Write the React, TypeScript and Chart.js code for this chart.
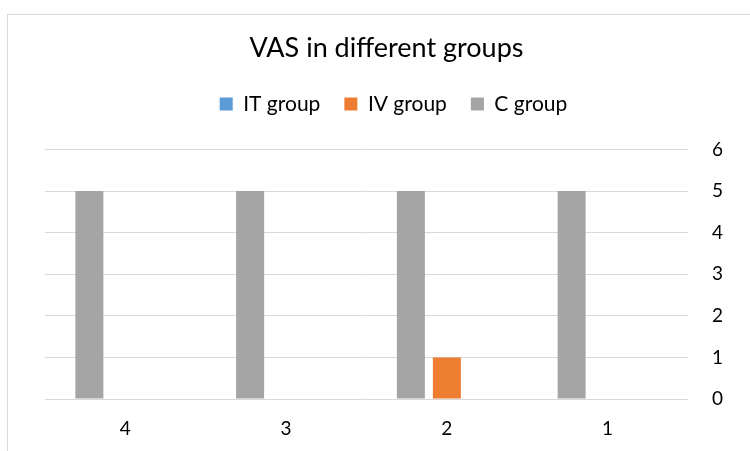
import React, { useEffect, useRef } from "react";
import { Chart, registerables, layouts } from "chart.js";

Chart.register(...registerables);

const categories = ["4", "3", "2", "1"];
const itGroup = [0, 0, 0, 0];
const ivGroup = [0, 0, 1, 0];
const cGroup = [5, 5, 5, 5];
const yMin = 0;
const yMax = 6;
const yStep = 1;

const FONT = "Lato";

const spacerPlugin = {
  id: "legendSpacer",
  beforeInit(chart: any) {
    const box: any = {
      position: "top",
      weight: 500,
      fullSize: true,
      options: {},
      top: 0,
      left: 0,
      right: 0,
      bottom: 0,
      width: 0,
      height: 0,
      isHorizontal() {
        return true;
      },
      update(maxWidth: number) {
        this.width = maxWidth;
        this.height = 25;
      },
      draw() {},
    };
    layouts.addBox(chart, box);
  },
  afterLayout(chart: any) {
    const lg = chart.legend;
    if (lg) {
      lg.left += 7;
      lg.right += 7;
    }
  },
};

export default function App() {
  const ref = useRef<HTMLCanvasElement | null>(null);
  useEffect(() => {
    if (!ref.current) return;
    const chart = new Chart(ref.current, {
      type: "bar",
      data: {
        labels: categories,
        datasets: [
          { label: "C group", data: cGroup, backgroundColor: "#A5A5A5", borderWidth: 0, yAxisID: "y" },
          { label: "IV group", data: ivGroup, backgroundColor: "#ED7D31", borderWidth: 0, yAxisID: "y" },
          { label: "IT group", data: itGroup, backgroundColor: "#5B9BD5", borderWidth: 0, yAxisID: "y" },
        ],
      },
      plugins: [spacerPlugin],
      options: {
        responsive: false,
        animation: false,
        events: [],
        datasets: { bar: { categoryPercentage: 0.672, barPercentage: 0.778 } },
        layout: { padding: 0 },
        plugins: {
          tooltip: { enabled: false },
          title: {
            display: true,
            text: "VAS in different groups",
            color: "#000",
            font: { family: FONT, size: 27, weight: "normal" },
            padding: { top: 17, bottom: 5 },
          },
          legend: {
            display: true,
            reverse: true,
            labels: {
              color: "#000",
              font: { family: FONT, size: 21 },
              boxWidth: 13,
              boxHeight: 13,
              padding: 24,
            },
          },
        },
        scales: {
          x: {
            grid: { display: false },
            border: { display: false },
            ticks: { color: "#000", font: { family: FONT, size: 19 }, padding: 10 },
            afterFit: (s: any) => { s.height = 86; },
          },
          y: {
            position: "right",
            min: yMin,
            max: yMax,
            grid: { color: "#D9D9D9", lineWidth: 1, drawTicks: false },
            border: { display: false },
            ticks: { stepSize: yStep, color: "#000", font: { family: FONT, size: 19 }, padding: 24 },
            afterFit: (s: any) => { s.width = 77; },
          },
          yLeft: {
            type: "linear",
            position: "left",
            display: true,
            grid: { display: false, drawTicks: false },
            border: { display: false },
            ticks: { display: false },
            afterFit: (s: any) => { s.width = 37; },
          },
        },
      },
    });
    return () => chart.destroy();
  }, []);
  return (
    <div style={{ position: "fixed", left: 0, top: 0, width: 750, height: 451, overflow: "hidden", background: "#fff" }}>
      <div style={{ position: "absolute", left: 7, top: 14, width: 800, height: 500, border: "1px solid #D9D9D9" }}>
        <canvas ref={ref} width={757} height={470} style={{ position: "absolute", left: 0, top: 0, width: 757, height: 470 }} />
      </div>
    </div>
  );
}
